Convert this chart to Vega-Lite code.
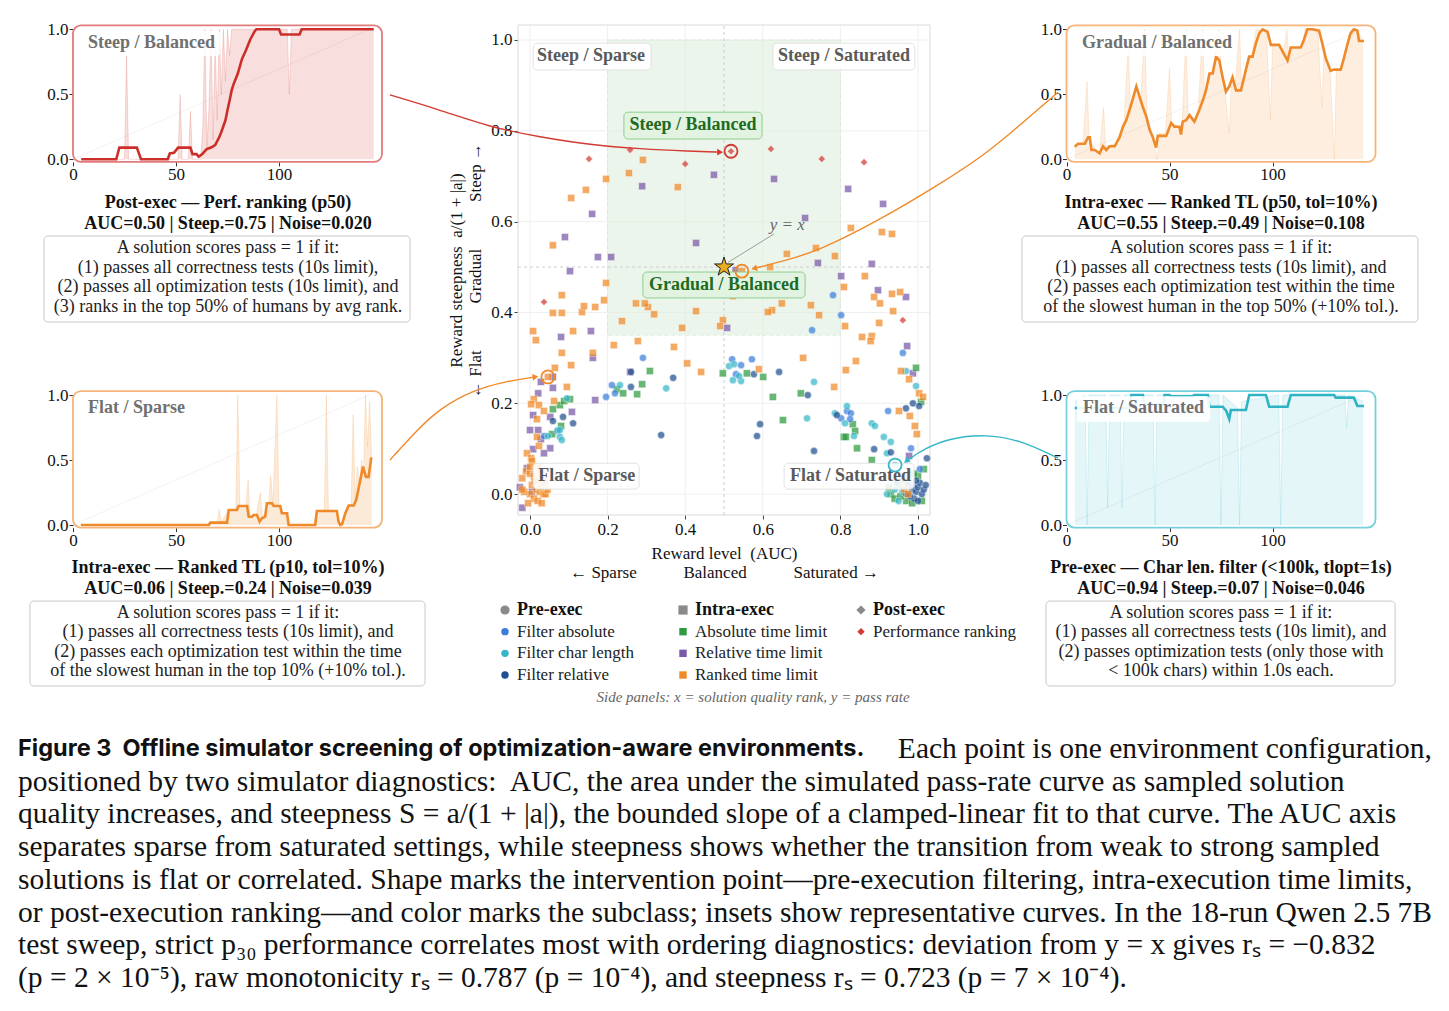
{
"$schema":"https://vega.github.io/schema/vega-lite/v6.json",
"width":1449,"height":1011,"padding":0,"autosize":{"type":"none"},"background":"white",
"config":{"view":{"stroke":null},"font":"Liberation Serif","axis":{"labelFont":"Liberation Serif","titleFont":"Liberation Serif"}},
"data":{"values":[{}]},
"datasets":{
"ticks":[{"g":0},{"g":0.2},{"g":0.4},{"g":0.6},{"g":0.8},{"g":1}],
"pts":[
{"auc":0.152,"steep":0.738,"sub":"PR"},{"auc":0.258,"steep":0.758,"sub":"PR"},{"auc":0.4,"steep":0.727,"sub":"PR"},{"auc":0.518,"steep":0.755,"sub":"PR"},{"auc":0.621,"steep":0.76,"sub":"PR"},{"auc":0.752,"steep":0.738,"sub":"PR"},{"auc":0.861,"steep":0.731,"sub":"PR"},{"auc":0.036,"steep":0.423,"sub":"PR"},{"auc":0.961,"steep":0.383,"sub":"PR"},
{"auc":0.289,"steep":0.678,"sub":"RT"},{"auc":0.474,"steep":0.703,"sub":"RT"},{"auc":0.629,"steep":0.694,"sub":"RT"},{"auc":0.82,"steep":0.672,"sub":"RT"},{"auc":0.91,"steep":0.639,"sub":"RT"},{"auc":0.16,"steep":0.617,"sub":"RT"},{"auc":0.09,"steep":0.566,"sub":"RT"},{"auc":0.175,"steep":0.522,"sub":"RT"},{"auc":0.209,"steep":0.522,"sub":"RT"},{"auc":0.428,"steep":0.553,"sub":"RT"},{"auc":0.709,"steep":0.608,"sub":"RT"},{"auc":0.742,"steep":0.509,"sub":"RT"},{"auc":0.881,"steep":0.507,"sub":"RT"},{"auc":0.802,"steep":0.48,"sub":"RT"},{"auc":0.103,"steep":0.491,"sub":"RT"},{"auc":0.969,"steep":0.434,"sub":"RT"},{"auc":0.897,"steep":0.449,"sub":"RT"},{"auc":0.508,"steep":0.366,"sub":"RT"},{"auc":0.157,"steep":0.359,"sub":"RT"},{"auc":0.162,"steep":0.3,"sub":"RT"},{"auc":0.08,"steep":0.346,"sub":"RT"},{"auc":0.168,"steep":0.207,"sub":"RT"},{"auc":0.258,"steep":0.269,"sub":"RT"},{"auc":0.059,"steep":0.258,"sub":"RT"},{"auc":0.059,"steep":0.234,"sub":"RT"},{"auc":0.028,"steep":0.247,"sub":"RT"},{"auc":0.021,"steep":0.222,"sub":"RT"},{"auc":0.008,"steep":0.174,"sub":"RT"},{"auc":0.052,"steep":0.17,"sub":"RT"},{"auc":0.108,"steep":0.181,"sub":"RT"},{"auc":0.0,"steep":0.141,"sub":"RT"},{"auc":0.021,"steep":0.141,"sub":"RT"},{"auc":0.028,"steep":0.121,"sub":"RT"},{"auc":0.052,"steep":0.101,"sub":"RT"},{"auc":0.008,"steep":0.099,"sub":"RT"},{"auc":0.036,"steep":0.09,"sub":"RT"},{"auc":0.972,"steep":0.326,"sub":"RT"},{"auc":0.987,"steep":0.266,"sub":"RT"},{"auc":0.977,"steep":0.084,"sub":"RT"},{"auc":-0.02,"steep":-0.03,"sub":"RT"},{"auc":-0.008,"steep":0.057,"sub":"RT"},{"auc":-0.026,"steep":0.015,"sub":"RT"},{"auc":0.005,"steep":0.005,"sub":"RT"},{"auc":0.035,"steep":0.03,"sub":"RT"},{"auc":0.53,"steep":0.493,"sub":"RT"},
{"auc":0.309,"steep":0.271,"sub":"AT"},{"auc":0.224,"steep":0.231,"sub":"AT"},{"auc":0.24,"steep":0.222,"sub":"AT"},{"auc":0.276,"steep":0.22,"sub":"AT"},{"auc":0.289,"steep":0.242,"sub":"AT"},{"auc":0.497,"steep":0.266,"sub":"AT"},{"auc":0.559,"steep":0.266,"sub":"AT"},{"auc":0.601,"steep":0.258,"sub":"AT"},{"auc":0.626,"steep":0.214,"sub":"AT"},{"auc":0.698,"steep":0.222,"sub":"AT"},{"auc":0.652,"steep":0.163,"sub":"AT"},{"auc":0.832,"steep":0.154,"sub":"AT"},{"auc":0.838,"steep":0.139,"sub":"AT"},{"auc":0.809,"steep":0.126,"sub":"AT"},{"auc":0.814,"steep":0.126,"sub":"AT"},{"auc":0.843,"steep":0.101,"sub":"AT"},{"auc":0.881,"steep":0.075,"sub":"AT"},{"auc":0.995,"steep":0.278,"sub":"AT"},{"auc":1.008,"steep":0.203,"sub":"AT"},{"auc":1.015,"steep":0.055,"sub":"AT"},{"auc":0.059,"steep":0.187,"sub":"AT"},{"auc":0.077,"steep":0.196,"sub":"AT"},{"auc":0.088,"steep":0.205,"sub":"AT"},{"auc":0.103,"steep":0.209,"sub":"AT"},{"auc":0.08,"steep":0.15,"sub":"AT"},{"auc":0.057,"steep":0.132,"sub":"AT"},{"auc":0.93,"steep":0.0,"sub":"AT"},{"auc":0.94,"steep":-0.01,"sub":"AT"},{"auc":0.95,"steep":0.02,"sub":"AT"},{"auc":0.965,"steep":0.03,"sub":"AT"},{"auc":0.97,"steep":-0.015,"sub":"AT"},{"auc":0.985,"steep":-0.02,"sub":"AT"},{"auc":0.925,"steep":0.015,"sub":"AT"},{"auc":0.955,"steep":-0.005,"sub":"AT"},{"auc":1.0,"steep":0.04,"sub":"AT"},{"auc":0.99,"steep":0.045,"sub":"AT"},{"auc":1.01,"steep":-0.015,"sub":"AT"},
{"auc":0.781,"steep":0.438,"sub":"FA"},{"auc":0.802,"steep":0.394,"sub":"FA"},{"auc":0.727,"steep":0.361,"sub":"FA"},{"auc":0.291,"steep":0.3,"sub":"FA"},{"auc":0.211,"steep":0.24,"sub":"FA"},{"auc":0.196,"steep":0.214,"sub":"FA"},{"auc":0.219,"steep":0.222,"sub":"FA"},{"auc":0.521,"steep":0.297,"sub":"FA"},{"auc":0.572,"steep":0.297,"sub":"FA"},{"auc":0.544,"steep":0.284,"sub":"FA"},{"auc":0.531,"steep":0.264,"sub":"FA"},{"auc":0.923,"steep":0.183,"sub":"FA"},{"auc":0.961,"steep":0.311,"sub":"FA"},{"auc":0.982,"steep":0.101,"sub":"FA"},{"auc":1.005,"steep":0.055,"sub":"FA"},{"auc":0.036,"steep":0.128,"sub":"FA"},{"auc":0.07,"steep":0.139,"sub":"FA"},{"auc":0.817,"steep":0.183,"sub":"FA"},{"auc":0.827,"steep":0.178,"sub":"FA"},{"auc":0.825,"steep":0.165,"sub":"FA"},{"auc":0.802,"steep":0.167,"sub":"FA"},{"auc":0.945,"steep":0.025,"sub":"FA"},{"auc":0.96,"steep":0.04,"sub":"FA"},{"auc":0.99,"steep":0.02,"sub":"FA"},
{"auc":0.351,"steep":0.233,"sub":"FC"},{"auc":0.523,"steep":0.251,"sub":"FC"},{"auc":0.544,"steep":0.249,"sub":"FC"},{"auc":0.513,"steep":0.282,"sub":"FC"},{"auc":0.526,"steep":0.286,"sub":"FC"},{"auc":0.539,"steep":0.26,"sub":"FC"},{"auc":0.732,"steep":0.247,"sub":"FC"},{"auc":0.714,"steep":0.167,"sub":"FC"},{"auc":0.817,"steep":0.194,"sub":"FC"},{"auc":0.786,"steep":0.178,"sub":"FC"},{"auc":0.812,"steep":0.156,"sub":"FC"},{"auc":0.835,"steep":0.128,"sub":"FC"},{"auc":0.881,"steep":0.156,"sub":"FC"},{"auc":0.889,"steep":0.15,"sub":"FC"},{"auc":0.912,"steep":0.126,"sub":"FC"},{"auc":0.93,"steep":0.115,"sub":"FC"},{"auc":0.92,"steep":0.09,"sub":"FC"},{"auc":0.969,"steep":0.271,"sub":"FC"},{"auc":0.995,"steep":0.238,"sub":"FC"},{"auc":0.941,"steep":0.064,"sub":"FC"},{"auc":0.232,"steep":0.24,"sub":"FC"},{"auc":0.095,"steep":0.211,"sub":"FC"},{"auc":0.072,"steep":0.141,"sub":"FC"},{"auc":0.077,"steep":0.141,"sub":"FC"},{"auc":0.046,"steep":0.128,"sub":"FC"},{"auc":0.077,"steep":0.126,"sub":"FC"},{"auc":0.082,"steep":0.119,"sub":"FC"},{"auc":0.94,"steep":0.01,"sub":"FC"},{"auc":0.96,"steep":0.005,"sub":"FC"},{"auc":0.975,"steep":0.035,"sub":"FC"},{"auc":0.92,"steep":0.0,"sub":"FC"},{"auc":0.95,"steep":-0.015,"sub":"FC"},{"auc":0.98,"steep":0.045,"sub":"FC"},
{"auc":0.26,"steep":0.236,"sub":"FR"},{"auc":0.26,"steep":0.269,"sub":"FR"},{"auc":0.369,"steep":0.256,"sub":"FR"},{"auc":0.338,"steep":0.13,"sub":"FR"},{"auc":0.577,"steep":0.264,"sub":"FR"},{"auc":0.642,"steep":0.269,"sub":"FR"},{"auc":0.716,"steep":0.218,"sub":"FR"},{"auc":0.593,"steep":0.154,"sub":"FR"},{"auc":0.585,"steep":0.128,"sub":"FR"},{"auc":0.732,"steep":0.095,"sub":"FR"},{"auc":0.791,"steep":0.174,"sub":"FR"},{"auc":0.887,"steep":0.099,"sub":"FR"},{"auc":0.93,"steep":0.092,"sub":"FR"},{"auc":0.987,"steep":0.2,"sub":"FR"},{"auc":1.003,"steep":0.194,"sub":"FR"},{"auc":0.969,"steep":0.189,"sub":"FR"},{"auc":1.023,"steep":0.079,"sub":"FR"},{"auc":0.085,"steep":0.17,"sub":"FR"},{"auc":0.059,"steep":0.161,"sub":"FR"},{"auc":0.111,"steep":0.156,"sub":"FR"},{"auc":0.975,"steep":0.02,"sub":"FR"},{"auc":0.985,"steep":0.01,"sub":"FR"},{"auc":0.995,"steep":0.005,"sub":"FR"},{"auc":1.0,"steep":0.015,"sub":"FR"},{"auc":1.01,"steep":0.0,"sub":"FR"},{"auc":0.99,"steep":-0.01,"sub":"FR"},{"auc":0.98,"steep":-0.005,"sub":"FR"},{"auc":1.005,"steep":0.025,"sub":"FR"},{"auc":1.015,"steep":0.01,"sub":"FR"},{"auc":0.97,"steep":0.0,"sub":"FR"},{"auc":0.995,"steep":0.03,"sub":"FR"},{"auc":1.02,"steep":0.02,"sub":"FR"},{"auc":1.0,"steep":-0.015,"sub":"FR"},
{"auc":0.291,"steep":0.736,"sub":"RK"},{"auc":0.255,"steep":0.707,"sub":"RK"},{"auc":0.196,"steep":0.694,"sub":"RK"},{"auc":0.144,"steep":0.67,"sub":"RK"},{"auc":0.106,"steep":0.652,"sub":"RK"},{"auc":0.059,"steep":0.548,"sub":"RK"},{"auc":0.381,"steep":0.676,"sub":"RK"},{"auc":0.827,"steep":0.586,"sub":"RK"},{"auc":0.907,"steep":0.577,"sub":"RK"},{"auc":0.933,"steep":0.573,"sub":"RK"},{"auc":0.662,"steep":0.529,"sub":"RK"},{"auc":0.737,"steep":0.542,"sub":"RK"},{"auc":0.786,"steep":0.524,"sub":"RK"},{"auc":0.619,"steep":0.5,"sub":"RK"},{"auc":0.863,"steep":0.48,"sub":"RK"},{"auc":0.546,"steep":0.491,"sub":"RK"},{"auc":0.196,"steep":0.465,"sub":"RK"},{"auc":0.809,"steep":0.456,"sub":"RK"},{"auc":0.933,"steep":0.441,"sub":"RK"},{"auc":0.954,"steep":0.445,"sub":"RK"},{"auc":0.887,"steep":0.434,"sub":"RK"},{"auc":0.902,"steep":0.42,"sub":"RK"},{"auc":0.936,"steep":0.403,"sub":"RK"},{"auc":0.9,"steep":0.377,"sub":"RK"},{"auc":0.881,"steep":0.348,"sub":"RK"},{"auc":0.878,"steep":0.337,"sub":"RK"},{"auc":0.856,"steep":0.346,"sub":"RK"},{"auc":0.812,"steep":0.37,"sub":"RK"},{"auc":0.724,"steep":0.416,"sub":"RK"},{"auc":0.745,"steep":0.394,"sub":"RK"},{"auc":0.704,"steep":0.3,"sub":"RK"},{"auc":0.84,"steep":0.293,"sub":"RK"},{"auc":0.814,"steep":0.273,"sub":"RK"},{"auc":0.784,"steep":0.236,"sub":"RK"},{"auc":0.624,"steep":0.405,"sub":"RK"},{"auc":0.613,"steep":0.401,"sub":"RK"},{"auc":0.649,"steep":0.42,"sub":"RK"},{"auc":0.59,"steep":0.275,"sub":"RK"},{"auc":0.405,"steep":0.288,"sub":"RK"},{"auc":0.441,"steep":0.269,"sub":"RK"},{"auc":0.371,"steep":0.324,"sub":"RK"},{"auc":0.392,"steep":0.366,"sub":"RK"},{"auc":0.428,"steep":0.403,"sub":"RK"},{"auc":0.497,"steep":0.383,"sub":"RK"},{"auc":0.49,"steep":0.37,"sub":"RK"},{"auc":0.523,"steep":0.436,"sub":"RK"},{"auc":0.32,"steep":0.396,"sub":"RK"},{"auc":0.304,"steep":0.412,"sub":"RK"},{"auc":0.296,"steep":0.42,"sub":"RK"},{"auc":0.273,"steep":0.42,"sub":"RK"},{"auc":0.278,"steep":0.337,"sub":"RK"},{"auc":0.237,"steep":0.381,"sub":"RK"},{"auc":0.216,"steep":0.328,"sub":"RK"},{"auc":0.191,"steep":0.427,"sub":"RK"},{"auc":0.168,"steep":0.412,"sub":"RK"},{"auc":0.134,"steep":0.401,"sub":"RK"},{"auc":0.139,"steep":0.414,"sub":"RK"},{"auc":0.111,"steep":0.359,"sub":"RK"},{"auc":0.106,"steep":0.284,"sub":"RK"},{"auc":0.082,"steep":0.399,"sub":"RK"},{"auc":0.082,"steep":0.438,"sub":"RK"},{"auc":0.059,"steep":0.399,"sub":"RK"},{"auc":0.082,"steep":0.311,"sub":"RK"},{"auc":0.064,"steep":0.278,"sub":"RK"},{"auc":0.095,"steep":0.236,"sub":"RK"},{"auc":0.008,"steep":0.359,"sub":"RK"},{"auc":0.015,"steep":0.339,"sub":"RK"},{"auc":0.162,"steep":0.311,"sub":"RK"},{"auc":0.956,"steep":0.271,"sub":"RK"},{"auc":0.977,"steep":0.253,"sub":"RK"},{"auc":1.003,"steep":0.222,"sub":"RK"},{"auc":1.013,"steep":0.214,"sub":"RK"},{"auc":0.951,"steep":0.183,"sub":"RK"},{"auc":0.979,"steep":0.172,"sub":"RK"},{"auc":0.992,"steep":0.15,"sub":"RK"},{"auc":0.997,"steep":0.132,"sub":"RK"},{"auc":0.046,"steep":0.258,"sub":"RK"},{"auc":0.01,"steep":0.209,"sub":"RK"},{"auc":0.003,"steep":0.198,"sub":"RK"},{"auc":0.023,"steep":0.196,"sub":"RK"},{"auc":0.036,"steep":0.183,"sub":"RK"},{"auc":0.018,"steep":0.165,"sub":"RK"},{"auc":0.062,"steep":0.205,"sub":"RK"},{"auc":0.018,"steep":0.126,"sub":"RK"},{"auc":0.023,"steep":0.106,"sub":"RK"},{"auc":-0.008,"steep":0.09,"sub":"RK"},{"auc":0.003,"steep":0.079,"sub":"RK"},{"auc":0.005,"steep":0.073,"sub":"RK"},
{"auc":-0.01,"steep":0.05,"sub":"RK"},{"auc":0.0,"steep":0.045,"sub":"RK"},{"auc":0.01,"steep":0.04,"sub":"RK"},{"auc":0.02,"steep":0.03,"sub":"RK"},{"auc":0.005,"steep":0.02,"sub":"RK"},{"auc":0.015,"steep":0.01,"sub":"RK"},{"auc":0.025,"steep":0.005,"sub":"RK"},{"auc":0.035,"steep":0.0,"sub":"RK"},{"auc":0.0,"steep":0.0,"sub":"RK"},{"auc":-0.015,"steep":0.005,"sub":"RK"},{"auc":0.01,"steep":-0.01,"sub":"RK"},{"auc":0.02,"steep":-0.015,"sub":"RK"},{"auc":0.03,"steep":-0.02,"sub":"RK"},{"auc":0.04,"steep":0.0,"sub":"RK"},{"auc":0.045,"steep":0.01,"sub":"RK"},{"auc":-0.005,"steep":-0.02,"sub":"RK"},{"auc":0.012,"steep":0.028,"sub":"RK"},{"auc":0.028,"steep":0.015,"sub":"RK"},{"auc":0.038,"steep":0.025,"sub":"RK"},{"auc":-0.02,"steep":0.01,"sub":"RK"},{"auc":0.0,"steep":0.06,"sub":"RK"},{"auc":0.02,"steep":0.06,"sub":"RK"},{"auc":-0.02,"steep":0.035,"sub":"RK"},{"auc":0.03,"steep":0.045,"sub":"RK"},{"auc":0.965,"steep":0.01,"sub":"RK"},{"auc":0.975,"steep":0.0,"sub":"RK"}
],
"hl":[{"auc":0.518,"steep":0.755,"sub":"PR"},{"auc":0.546,"steep":0.491,"sub":"RK"},{"auc":0.046,"steep":0.258,"sub":"RK"},{"auc":0.941,"steep":0.064,"sub":"FC"}],
"arr":[
{"id":"a","k":0,"auc":-0.361,"steep":0.879,"sub":"PR"},{"id":"a","k":1,"auc":-0.232,"steep":0.846,"sub":"PR"},{"id":"a","k":2,"auc":-0.103,"steep":0.808,"sub":"PR"},{"id":"a","k":3,"auc":0.026,"steep":0.786,"sub":"PR"},{"id":"a","k":4,"auc":0.155,"steep":0.769,"sub":"PR"},{"id":"a","k":5,"auc":0.284,"steep":0.76,"sub":"PR"},{"id":"a","k":6,"auc":0.412,"steep":0.755,"sub":"PR"},{"id":"a","k":7,"auc":0.49,"steep":0.753,"sub":"PR"},
{"id":"b","k":0,"auc":1.361,"steep":0.885,"sub":"RK"},{"id":"b","k":1,"auc":1.263,"steep":0.813,"sub":"RK"},{"id":"b","k":2,"auc":1.173,"steep":0.747,"sub":"RK"},{"id":"b","k":3,"auc":1.044,"steep":0.676,"sub":"RK"},{"id":"b","k":4,"auc":0.902,"steep":0.604,"sub":"RK"},{"id":"b","k":5,"auc":0.747,"steep":0.537,"sub":"RK"},{"id":"b","k":6,"auc":0.662,"steep":0.515,"sub":"RK"},{"id":"b","k":7,"auc":0.578,"steep":0.497,"sub":"RK"},
{"id":"c","k":0,"auc":-0.361,"steep":0.075,"sub":"RK"},{"id":"c","k":1,"auc":-0.296,"steep":0.137,"sub":"RK"},{"id":"c","k":2,"auc":-0.232,"steep":0.189,"sub":"RK"},{"id":"c","k":3,"auc":-0.147,"steep":0.229,"sub":"RK"},{"id":"c","k":4,"auc":-0.059,"steep":0.249,"sub":"RK"},{"id":"c","k":5,"auc":0.014,"steep":0.258,"sub":"RK"},
{"id":"d","k":0,"auc":1.361,"steep":0.079,"sub":"FC"},{"id":"d","k":1,"auc":1.265,"steep":0.119,"sub":"FC"},{"id":"d","k":2,"auc":1.173,"steep":0.132,"sub":"FC"},{"id":"d","k":3,"auc":1.082,"steep":0.123,"sub":"FC"},{"id":"d","k":4,"auc":1.018,"steep":0.101,"sub":"FC"},{"id":"d","k":5,"auc":0.97,"steep":0.073,"sub":"FC"}
],
"sm":[
{"p":"TL","i":4,"v":0},{"p":"TL","i":21,"v":0},{"p":"TL","i":22.5,"v":0.09},{"p":"TL","i":31,"v":0.09},{"p":"TL","i":33,"v":0},{"p":"TL","i":46,"v":0},{"p":"TL","i":47,"v":0.045},{"p":"TL","i":49,"v":0.05},{"p":"TL","i":51,"v":0.09},{"p":"TL","i":57,"v":0.09},{"p":"TL","i":58,"v":0.04},{"p":"TL","i":60,"v":0.04},{"p":"TL","i":61,"v":0.02},{"p":"TL","i":63,"v":0.045},{"p":"TL","i":65,"v":0.08},{"p":"TL","i":67,"v":0.09},{"p":"TL","i":69,"v":0.11},{"p":"TL","i":71,"v":0.17},{"p":"TL","i":72,"v":0.21},{"p":"TL","i":74,"v":0.3},{"p":"TL","i":75,"v":0.38},{"p":"TL","i":76,"v":0.45},{"p":"TL","i":77,"v":0.53},{"p":"TL","i":78,"v":0.58},{"p":"TL","i":80,"v":0.66},{"p":"TL","i":82,"v":0.77},{"p":"TL","i":84,"v":0.84},{"p":"TL","i":86,"v":0.92},{"p":"TL","i":88,"v":0.98},{"p":"TL","i":89,"v":1},{"p":"TL","i":100,"v":1},{"p":"TL","i":101,"v":0.96},{"p":"TL","i":110,"v":0.96},{"p":"TL","i":111,"v":1},{"p":"TL","i":146,"v":1},
{"p":"TR","i":4,"v":0.097},{"p":"TR","i":5.6,"v":0.12},{"p":"TR","i":8.9,"v":0.12},{"p":"TR","i":10.5,"v":0.17},{"p":"TR","i":11.3,"v":0.17},{"p":"TR","i":12.1,"v":0.072},{"p":"TR","i":13.7,"v":0.072},{"p":"TR","i":16.1,"v":0.046},{"p":"TR","i":17.7,"v":0.1},{"p":"TR","i":19.3,"v":0.072},{"p":"TR","i":20.9,"v":0.1},{"p":"TR","i":23.4,"v":0.1},{"p":"TR","i":25.8,"v":0.17},{"p":"TR","i":27.4,"v":0.25},{"p":"TR","i":29,"v":0.3},{"p":"TR","i":30.6,"v":0.38},{"p":"TR","i":32.3,"v":0.47},{"p":"TR","i":33.9,"v":0.56},{"p":"TR","i":35.5,"v":0.48},{"p":"TR","i":37.1,"v":0.4},{"p":"TR","i":38.7,"v":0.33},{"p":"TR","i":40.3,"v":0.23},{"p":"TR","i":41.9,"v":0.17},{"p":"TR","i":43.5,"v":0.09},{"p":"TR","i":44.3,"v":0.18},{"p":"TR","i":48.4,"v":0.18},{"p":"TR","i":50.8,"v":0.28},{"p":"TR","i":52.4,"v":0.25},{"p":"TR","i":54.8,"v":0.25},{"p":"TR","i":55.6,"v":0.19},{"p":"TR","i":56.4,"v":0.29},{"p":"TR","i":58.1,"v":0.3},{"p":"TR","i":59.7,"v":0.34},{"p":"TR","i":62.1,"v":0.29},{"p":"TR","i":64.5,"v":0.38},{"p":"TR","i":66.1,"v":0.45},{"p":"TR","i":67.7,"v":0.53},{"p":"TR","i":69.4,"v":0.66},{"p":"TR","i":71,"v":0.66},{"p":"TR","i":72.6,"v":0.79},{"p":"TR","i":74.2,"v":0.76},{"p":"TR","i":75.8,"v":0.63},{"p":"TR","i":77.4,"v":0.52},{"p":"TR","i":79,"v":0.56},{"p":"TR","i":80.6,"v":0.63},{"p":"TR","i":82.3,"v":0.53},{"p":"TR","i":84.7,"v":0.53},{"p":"TR","i":87.1,"v":0.69},{"p":"TR","i":88.7,"v":0.79},{"p":"TR","i":90.3,"v":0.79},{"p":"TR","i":91.9,"v":0.89},{"p":"TR","i":93.6,"v":0.97},{"p":"TR","i":95.2,"v":1},{"p":"TR","i":97.6,"v":0.98},{"p":"TR","i":99.2,"v":0.88},{"p":"TR","i":103.2,"v":0.88},{"p":"TR","i":104.9,"v":0.83},{"p":"TR","i":107.3,"v":0.76},{"p":"TR","i":108.9,"v":0.86},{"p":"TR","i":113.7,"v":0.86},{"p":"TR","i":115.3,"v":0.92},{"p":"TR","i":116.9,"v":1},{"p":"TR","i":119.4,"v":1},{"p":"TR","i":122.6,"v":0.99},{"p":"TR","i":124.2,"v":0.89},{"p":"TR","i":125.8,"v":0.78},{"p":"TR","i":128.2,"v":0.68},{"p":"TR","i":129.8,"v":0.69},{"p":"TR","i":133.1,"v":0.69},{"p":"TR","i":134.7,"v":0.78},{"p":"TR","i":136.3,"v":0.88},{"p":"TR","i":137.9,"v":0.97},{"p":"TR","i":139.5,"v":1},{"p":"TR","i":141.2,"v":0.99},{"p":"TR","i":142,"v":0.91},{"p":"TR","i":144.4,"v":0.91},
{"p":"BL","i":3.8,"v":0},{"p":"BL","i":65.9,"v":0},{"p":"BL","i":66.7,"v":0.018},{"p":"BL","i":74.8,"v":0.018},{"p":"BL","i":75.6,"v":0.115},{"p":"BL","i":79.6,"v":0.115},{"p":"BL","i":80.4,"v":0.146},{"p":"BL","i":84.5,"v":0.146},{"p":"BL","i":85.3,"v":0.064},{"p":"BL","i":86.9,"v":0.064},{"p":"BL","i":87.7,"v":0.077},{"p":"BL","i":89.3,"v":0.077},{"p":"BL","i":90.6,"v":0.026},{"p":"BL","i":91.7,"v":0.051},{"p":"BL","i":93.3,"v":0.064},{"p":"BL","i":94.1,"v":0.167},{"p":"BL","i":96.6,"v":0.167},{"p":"BL","i":97.4,"v":0.146},{"p":"BL","i":100.6,"v":0.146},{"p":"BL","i":101.4,"v":0.09},{"p":"BL","i":103.9,"v":0.09},{"p":"BL","i":104.7,"v":0},{"p":"BL","i":117.6,"v":0},{"p":"BL","i":118.4,"v":0.108},{"p":"BL","i":128.1,"v":0.108},{"p":"BL","i":128.9,"v":0.026},{"p":"BL","i":129.7,"v":0},{"p":"BL","i":130.6,"v":0.005},{"p":"BL","i":132.2,"v":0.09},{"p":"BL","i":133.8,"v":0.15},{"p":"BL","i":136.3,"v":0.15},{"p":"BL","i":137.6,"v":0.2},{"p":"BL","i":140.8,"v":0.45},{"p":"BL","i":142.2,"v":0.37},{"p":"BL","i":143.5,"v":0.37},{"p":"BL","i":144.8,"v":0.52},
{"p":"BR","i":4,"v":0.9},{"p":"BR","i":30.5,"v":0.9},{"p":"BR","i":31.5,"v":1},{"p":"BR","i":37.1,"v":1},{"p":"BR","i":37.9,"v":0.93},{"p":"BR","i":47,"v":0.93},{"p":"BR","i":47.6,"v":1},{"p":"BR","i":50,"v":1},{"p":"BR","i":50.8,"v":0.99},{"p":"BR","i":61.3,"v":0.99},{"p":"BR","i":62,"v":1},{"p":"BR","i":68.6,"v":1},{"p":"BR","i":69.4,"v":0.91},{"p":"BR","i":75.8,"v":0.91},{"p":"BR","i":77.5,"v":0.88},{"p":"BR","i":79,"v":0.815},{"p":"BR","i":79.8,"v":0.885},{"p":"BR","i":87.1,"v":0.885},{"p":"BR","i":88.7,"v":1},{"p":"BR","i":96.8,"v":1},{"p":"BR","i":98.4,"v":0.91},{"p":"BR","i":107.3,"v":0.91},{"p":"BR","i":108.9,"v":1},{"p":"BR","i":129.9,"v":1},{"p":"BR","i":130.7,"v":0.98},{"p":"BR","i":139.5,"v":0.98},{"p":"BR","i":141.2,"v":0.915},{"p":"BR","i":144.4,"v":0.915}
],
"raw":[
{"p":"TL","i":4,"v":0},{"p":"TL","i":25,"v":0},{"p":"TL","i":26,"v":0.8},{"p":"TL","i":27,"v":0},{"p":"TL","i":51,"v":0},{"p":"TL","i":52,"v":0.5},{"p":"TL","i":53,"v":0},{"p":"TL","i":56,"v":0},{"p":"TL","i":57,"v":0.37},{"p":"TL","i":58,"v":0},{"p":"TL","i":62,"v":0},{"p":"TL","i":63,"v":0.25},{"p":"TL","i":64,"v":1},{"p":"TL","i":65,"v":0.1},{"p":"TL","i":66,"v":0.4},{"p":"TL","i":67,"v":1},{"p":"TL","i":68,"v":0.15},{"p":"TL","i":69,"v":0.9},{"p":"TL","i":70,"v":0.3},{"p":"TL","i":71,"v":1},{"p":"TL","i":72,"v":0.5},{"p":"TL","i":73,"v":1},{"p":"TL","i":74,"v":0.6},{"p":"TL","i":75,"v":1},{"p":"TL","i":76,"v":0.8},{"p":"TL","i":77,"v":1},{"p":"TL","i":104,"v":1},{"p":"TL","i":105,"v":0.5},{"p":"TL","i":106,"v":1},{"p":"TL","i":146,"v":1},
{"p":"TR","i":4,"v":0.1},{"p":"TR","i":8,"v":0.12},{"p":"TR","i":10,"v":0.6},{"p":"TR","i":11,"v":0.15},{"p":"TR","i":14,"v":0.08},{"p":"TR","i":16,"v":0.05},{"p":"TR","i":18,"v":0.4},{"p":"TR","i":19,"v":0.1},{"p":"TR","i":24,"v":0.12},{"p":"TR","i":28,"v":0.3},{"p":"TR","i":30,"v":0.9},{"p":"TR","i":31,"v":0.35},{"p":"TR","i":34,"v":0.56},{"p":"TR","i":36,"v":0.45},{"p":"TR","i":38,"v":1},{"p":"TR","i":39,"v":0.35},{"p":"TR","i":42,"v":0.15},{"p":"TR","i":44,"v":0},{"p":"TR","i":45,"v":0.2},{"p":"TR","i":48,"v":0.2},{"p":"TR","i":50,"v":0.7},{"p":"TR","i":51,"v":0.28},{"p":"TR","i":54,"v":0.26},{"p":"TR","i":56,"v":0.2},{"p":"TR","i":58,"v":1},{"p":"TR","i":59,"v":0.33},{"p":"TR","i":62,"v":0.3},{"p":"TR","i":64,"v":0.38},{"p":"TR","i":66,"v":1},{"p":"TR","i":67,"v":0.5},{"p":"TR","i":70,"v":0.66},{"p":"TR","i":72,"v":0.78},{"p":"TR","i":74,"v":1},{"p":"TR","i":75,"v":0.7},{"p":"TR","i":77,"v":0.52},{"p":"TR","i":79,"v":0.2},{"p":"TR","i":80,"v":0.58},{"p":"TR","i":82,"v":0.6},{"p":"TR","i":84,"v":1},{"p":"TR","i":85,"v":0.55},{"p":"TR","i":88,"v":0.79},{"p":"TR","i":90,"v":0.8},{"p":"TR","i":92,"v":1},{"p":"TR","i":97,"v":0.98},{"p":"TR","i":99,"v":0.3},{"p":"TR","i":100,"v":0.88},{"p":"TR","i":103,"v":0.88},{"p":"TR","i":105,"v":0.8},{"p":"TR","i":107,"v":1},{"p":"TR","i":108,"v":0.76},{"p":"TR","i":110,"v":0.86},{"p":"TR","i":114,"v":0.86},{"p":"TR","i":116,"v":1},{"p":"TR","i":122,"v":0.99},{"p":"TR","i":124,"v":0.4},{"p":"TR","i":125,"v":0.85},{"p":"TR","i":128,"v":0.68},{"p":"TR","i":130,"v":0},{"p":"TR","i":131,"v":0.69},{"p":"TR","i":133,"v":0.69},{"p":"TR","i":135,"v":0.78},{"p":"TR","i":137,"v":0.92},{"p":"TR","i":139,"v":1},{"p":"TR","i":141,"v":1},{"p":"TR","i":144,"v":0.91},
{"p":"BL","i":4,"v":0},{"p":"BL","i":65,"v":0},{"p":"BL","i":66,"v":0.02},{"p":"BL","i":70,"v":0.02},{"p":"BL","i":71,"v":0.12},{"p":"BL","i":72,"v":0.02},{"p":"BL","i":75,"v":0.11},{"p":"BL","i":79,"v":0.12},{"p":"BL","i":80,"v":1},{"p":"BL","i":81,"v":0.15},{"p":"BL","i":84,"v":0.15},{"p":"BL","i":85,"v":0.35},{"p":"BL","i":86,"v":0.07},{"p":"BL","i":89,"v":0.08},{"p":"BL","i":91,"v":0.25},{"p":"BL","i":92,"v":0.05},{"p":"BL","i":95,"v":0.17},{"p":"BL","i":96,"v":0.38},{"p":"BL","i":97,"v":0.15},{"p":"BL","i":99,"v":1},{"p":"BL","i":100,"v":0.15},{"p":"BL","i":101,"v":0.09},{"p":"BL","i":103,"v":0.09},{"p":"BL","i":104,"v":0},{"p":"BL","i":117,"v":0},{"p":"BL","i":118,"v":0.11},{"p":"BL","i":122,"v":0.11},{"p":"BL","i":123,"v":1},{"p":"BL","i":124,"v":0.11},{"p":"BL","i":128,"v":0.11},{"p":"BL","i":130,"v":0},{"p":"BL","i":133,"v":0.12},{"p":"BL","i":135,"v":0.15},{"p":"BL","i":136,"v":0.85},{"p":"BL","i":137,"v":0.2},{"p":"BL","i":138,"v":0.45},{"p":"BL","i":139,"v":0.3},{"p":"BL","i":140,"v":0.5},{"p":"BL","i":141,"v":0.4},{"p":"BL","i":142,"v":1},{"p":"BL","i":143,"v":0.6},{"p":"BL","i":144,"v":0.95},{"p":"BL","i":145,"v":0.5},
{"p":"BR","i":4,"v":0.95},{"p":"BR","i":9,"v":1},{"p":"BR","i":10,"v":0},{"p":"BR","i":11,"v":1},{"p":"BR","i":19,"v":1},{"p":"BR","i":20,"v":0.13},{"p":"BR","i":21,"v":1},{"p":"BR","i":26,"v":1},{"p":"BR","i":27,"v":0.13},{"p":"BR","i":28,"v":1},{"p":"BR","i":42,"v":1},{"p":"BR","i":43,"v":0},{"p":"BR","i":44,"v":1},{"p":"BR","i":74,"v":1},{"p":"BR","i":75,"v":0},{"p":"BR","i":76,"v":1},{"p":"BR","i":83,"v":0.9},{"p":"BR","i":84,"v":0},{"p":"BR","i":85,"v":0.95},{"p":"BR","i":103,"v":1},{"p":"BR","i":104,"v":0},{"p":"BR","i":105,"v":1},{"p":"BR","i":135,"v":1},{"p":"BR","i":136,"v":0.75},{"p":"BR","i":137,"v":1},{"p":"BR","i":144,"v":0.95}
],
"txt":[
{"s":"L","k":0,"t":"Post-exec — Perf. ranking (p50)"},{"s":"L","k":1,"t":"AUC=0.50 | Steep.=0.75 | Noise=0.020"},{"s":"L","k":2,"t":"A solution scores pass = 1 if it:"},{"s":"L","k":3,"t":"(1) passes all correctness tests (10s limit),"},{"s":"L","k":4,"t":"(2) passes all optimization tests (10s limit), and"},{"s":"L","k":5,"t":"(3) ranks in the top 50% of humans by avg rank."},
{"s":"L","k":6,"t":"Intra-exec — Ranked TL (p10, tol=10%)"},{"s":"L","k":7,"t":"AUC=0.06 | Steep.=0.24 | Noise=0.039"},{"s":"L","k":8,"t":"A solution scores pass = 1 if it:"},{"s":"L","k":9,"t":"(1) passes all correctness tests (10s limit), and"},{"s":"L","k":10,"t":"(2) passes each optimization test within the time"},{"s":"L","k":11,"t":"of the slowest human in the top 10% (+10% tol.)."},
{"s":"R","k":0,"t":"Intra-exec — Ranked TL (p50, tol=10%)"},{"s":"R","k":1,"t":"AUC=0.55 | Steep.=0.49 | Noise=0.108"},{"s":"R","k":2,"t":"A solution scores pass = 1 if it:"},{"s":"R","k":3,"t":"(1) passes all correctness tests (10s limit), and"},{"s":"R","k":4,"t":"(2) passes each optimization test within the time"},{"s":"R","k":5,"t":"of the slowest human in the top 50% (+10% tol.)."},
{"s":"R","k":6,"t":"Pre-exec — Char len. filter (<100k, tlopt=1s)"},{"s":"R","k":7,"t":"AUC=0.94 | Steep.=0.07 | Noise=0.046"},{"s":"R","k":8,"t":"A solution scores pass = 1 if it:"},{"s":"R","k":9,"t":"(1) passes all correctness tests (10s limit), and"},{"s":"R","k":10,"t":"(2) passes optimization tests (only those with"},{"s":"R","k":11,"t":"< 100k chars) within 1.0s each."}
],
"leg":[
{"stage":"Pre-exec","r":0,"label":"Pre-exec","sub":"Hpre"},{"stage":"Intra-exec","r":0,"label":"Intra-exec","sub":"Hintra"},{"stage":"Post-exec","r":0,"label":"Post-exec","sub":"Hpost"},
{"stage":"Pre-exec","r":1,"label":"Filter absolute","sub":"FA"},{"stage":"Pre-exec","r":2,"label":"Filter char length","sub":"FC"},{"stage":"Pre-exec","r":3,"label":"Filter relative","sub":"FR"},
{"stage":"Intra-exec","r":1,"label":"Absolute time limit","sub":"AT"},{"stage":"Intra-exec","r":2,"label":"Relative time limit","sub":"RT"},{"stage":"Intra-exec","r":3,"label":"Ranked time limit","sub":"RK"},
{"stage":"Post-exec","r":1,"label":"Performance ranking","sub":"PR"}
],
"cap":[
{"n":1,"part":"title","t":"Figure 3\u00a0\u00a0Offline simulator screening of optimization-aware environments."},
{"n":1,"part":"body","t":"Each point is one environment configuration,"},
{"n":2,"part":"body","t":"positioned by two simulator diagnostics:\u00a0 AUC, the area under the simulated pass-rate curve as sampled solution"},
{"n":3,"part":"body","t":"quality increases, and steepness S = a/(1 + |a|), the bounded slope of a clamped-linear fit to that curve. The AUC axis"},
{"n":4,"part":"body","t":"separates sparse from saturated settings, while steepness shows whether the transition from weak to strong sampled"},
{"n":5,"part":"body","t":"solutions is flat or correlated. Shape marks the intervention point—pre-execution filtering, intra-execution time limits,"},
{"n":6,"part":"body","t":"or post-execution ranking—and color marks the subclass; insets show representative curves. In the 18-run Qwen 2.5 7B"},
{"n":7,"part":"body","t":"test sweep, strict p₃₀ performance correlates most with ordering diagnostics: deviation from y = x gives rₛ = −0.832"},
{"n":8,"part":"body","t":"(p = 2 × 10⁻⁵), raw monotonicity rₛ = 0.787 (p = 10⁻⁴), and steepness rₛ = 0.723 (p = 7 × 10⁻⁴)."}
]
},
"resolve":{"scale":{"x":"independent","y":"independent"},"axis":{"x":"independent","y":"independent"}},
"layer":[
{"layer":[
 {"data":{"name":"ticks"},"mark":{"type":"rule","color":"#efefef","strokeWidth":1},"encoding":{"x":{"field":"g","type":"quantitative","scale":{"domain":[-0.031,1.031],"range":[518,930],"nice":false,"zero":false}},"y":{"datum":-0.046,"type":"quantitative","scale":{"domain":[-0.046,1.033],"range":[515,25],"nice":false,"zero":false}},"y2":{"datum":1.033}}},
 {"data":{"name":"ticks"},"mark":{"type":"rule","color":"#efefef","strokeWidth":1},"encoding":{"y":{"field":"g","type":"quantitative","scale":{"domain":[-0.046,1.033],"range":[515,25],"nice":false,"zero":false}},"x":{"datum":-0.031,"type":"quantitative","scale":{"domain":[-0.031,1.031],"range":[518,930],"nice":false,"zero":false}},"x2":{"datum":1.031}}},
 {"mark":{"type":"rect","fill":"#dff0df","opacity":0.6,"stroke":"#c9e4c9","strokeDash":[4,3],"strokeWidth":1},"encoding":{"x":{"datum":0.2,"type":"quantitative","scale":{"domain":[-0.031,1.031],"range":[518,930],"nice":false,"zero":false}},"x2":{"datum":0.8},"y":{"datum":0.35,"type":"quantitative","scale":{"domain":[-0.046,1.033],"range":[515,25],"nice":false,"zero":false}},"y2":{"datum":1.0}}},
 {"mark":{"type":"rect","filled":false,"stroke":"#d9d9d9","strokeWidth":1},"encoding":{"x":{"datum":-0.031,"type":"quantitative","scale":{"domain":[-0.031,1.031],"range":[518,930],"nice":false,"zero":false}},"x2":{"datum":1.031},"y":{"datum":-0.046,"type":"quantitative","scale":{"domain":[-0.046,1.033],"range":[515,25],"nice":false,"zero":false}},"y2":{"datum":1.033}}},
 {"mark":{"type":"rule","color":"#cccccc","strokeDash":[3,3],"strokeWidth":1},"encoding":{"x":{"datum":0.5,"type":"quantitative","scale":{"domain":[-0.031,1.031],"range":[518,930],"nice":false,"zero":false}},"y":{"datum":-0.046,"type":"quantitative","scale":{"domain":[-0.046,1.033],"range":[515,25],"nice":false,"zero":false}},"y2":{"datum":1.033}}},
 {"mark":{"type":"rule","color":"#cccccc","strokeDash":[3,3],"strokeWidth":1},"encoding":{"y":{"datum":0.5,"type":"quantitative","scale":{"domain":[-0.046,1.033],"range":[515,25],"nice":false,"zero":false}},"x":{"datum":-0.031,"type":"quantitative","scale":{"domain":[-0.031,1.031],"range":[518,930],"nice":false,"zero":false}},"x2":{"datum":1.031}}},
 {"data":{"name":"pts"},"mark":{"type":"point","filled":true,"opacity":0.72,"stroke":"white","strokeWidth":0.5,"size":52},"encoding":{
   "x":{"field":"auc","type":"quantitative","scale":{"domain":[-0.031,1.031],"range":[518,930],"nice":false,"zero":false},"axis":{"orient":"bottom","offset":-496,"values":[0,0.2,0.4,0.6,0.8,1],"format":".1f","domain":false,"tickSize":4,"tickColor":"#444","labelFontSize":17,"labelColor":"#111","labelPadding":2,"grid":false,"labelOverlap":false,"labelFlush":false,"title":["Reward level\u00a0\u00a0(AUC)","← Sparse\u00a0\u00a0\u00a0\u00a0\u00a0\u00a0\u00a0\u00a0\u00a0\u00a0\u00a0Balanced\u00a0\u00a0\u00a0\u00a0\u00a0\u00a0\u00a0\u00a0\u00a0\u00a0\u00a0Saturated →"],"titleFontSize":17,"titleFontWeight":"normal","titleColor":"#111","titlePadding":8,"titleLineHeight":19}},
   "y":{"field":"steep","type":"quantitative","scale":{"domain":[-0.046,1.033],"range":[515,25],"nice":false,"zero":false},"axis":{"orient":"left","offset":-518,"values":[0,0.2,0.4,0.6,0.8,1],"format":".1f","domain":false,"tickSize":4,"tickColor":"#444","labelFontSize":17,"labelColor":"#111","labelPadding":2,"grid":false,"labelOverlap":false,"labelFlush":false,"title":["Reward steepness\u00a0\u00a0a/(1 + |a|)","← Flat\u00a0\u00a0\u00a0\u00a0\u00a0\u00a0\u00a0\u00a0\u00a0\u00a0\u00a0Gradual\u00a0\u00a0\u00a0\u00a0\u00a0\u00a0\u00a0\u00a0\u00a0\u00a0\u00a0Steep →"],"titleFontSize":17,"titleFontWeight":"normal","titleColor":"#111","titlePadding":6,"titleLineHeight":19}},
   "color":{"field":"sub","type":"nominal","scale":{"domain":["FA","FC","FR","AT","RT","RK","PR","Hpre","Hintra","Hpost"],"range":["#3a7ddb","#36b7c8","#1f4f8f","#2e9b3e","#7a5aa8","#f08a28","#d33a32","#8a8a8a","#8a8a8a","#8a8a8a"]},"legend":null},
   "shape":{"field":"sub","type":"nominal","scale":{"domain":["FA","FC","FR","AT","RT","RK","PR","Hpre","Hintra","Hpost"],"range":["circle","circle","circle","square","square","square","diamond","circle","square","diamond"]},"legend":null}}},
 {"mark":{"type":"rect","fill":"#ffffff","fillOpacity":0.88,"stroke":"#e2e2e2","strokeWidth":1,"cornerRadius":4},"encoding":{"x":{"datum":0.008,"type":"quantitative","scale":{"domain":[-0.031,1.031],"range":[518,930],"nice":false,"zero":false}},"x2":{"datum":0.312},"y":{"datum":0.934,"type":"quantitative","scale":{"domain":[-0.046,1.033],"range":[515,25],"nice":false,"zero":false}},"y2":{"datum":0.993}}},
 {"mark":{"type":"rect","fill":"#ffffff","fillOpacity":0.88,"stroke":"#e2e2e2","strokeWidth":1,"cornerRadius":4},"encoding":{"x":{"datum":0.626,"type":"quantitative","scale":{"domain":[-0.031,1.031],"range":[518,930],"nice":false,"zero":false}},"x2":{"datum":0.992},"y":{"datum":0.934,"type":"quantitative","scale":{"domain":[-0.046,1.033],"range":[515,25],"nice":false,"zero":false}},"y2":{"datum":0.993}}},
 {"mark":{"type":"rect","fill":"#ffffff","fillOpacity":0.88,"stroke":"#e2e2e2","strokeWidth":1,"cornerRadius":4},"encoding":{"x":{"datum":0.008,"type":"quantitative","scale":{"domain":[-0.031,1.031],"range":[518,930],"nice":false,"zero":false}},"x2":{"datum":0.281},"y":{"datum":0.011,"type":"quantitative","scale":{"domain":[-0.046,1.033],"range":[515,25],"nice":false,"zero":false}},"y2":{"datum":0.068}}},
 {"mark":{"type":"rect","fill":"#ffffff","fillOpacity":0.88,"stroke":"#e2e2e2","strokeWidth":1,"cornerRadius":4},"encoding":{"x":{"datum":0.655,"type":"quantitative","scale":{"domain":[-0.031,1.031],"range":[518,930],"nice":false,"zero":false}},"x2":{"datum":0.99},"y":{"datum":0.011,"type":"quantitative","scale":{"domain":[-0.046,1.033],"range":[515,25],"nice":false,"zero":false}},"y2":{"datum":0.068}}},
 {"mark":{"type":"rect","fill":"#e2f3e2","stroke":"#8fcf8f","strokeWidth":1,"cornerRadius":4},"encoding":{"x":{"datum":0.242,"type":"quantitative","scale":{"domain":[-0.031,1.031],"range":[518,930],"nice":false,"zero":false}},"x2":{"datum":0.598},"y":{"datum":0.782,"type":"quantitative","scale":{"domain":[-0.046,1.033],"range":[515,25],"nice":false,"zero":false}},"y2":{"datum":0.841}}},
 {"mark":{"type":"rect","fill":"#e2f3e2","stroke":"#8fcf8f","strokeWidth":1,"cornerRadius":4},"encoding":{"x":{"datum":0.291,"type":"quantitative","scale":{"domain":[-0.031,1.031],"range":[518,930],"nice":false,"zero":false}},"x2":{"datum":0.709},"y":{"datum":0.432,"type":"quantitative","scale":{"domain":[-0.046,1.033],"range":[515,25],"nice":false,"zero":false}},"y2":{"datum":0.489}}},
 {"mark":{"type":"text","text":"Steep / Sparse","fontWeight":"bold","fontSize":18,"color":"#5a5a5a","align":"left","baseline":"middle"},"encoding":{"x":{"datum":0.018,"type":"quantitative","scale":{"domain":[-0.031,1.031],"range":[518,930],"nice":false,"zero":false}},"y":{"datum":0.965,"type":"quantitative","scale":{"domain":[-0.046,1.033],"range":[515,25],"nice":false,"zero":false}}}},
 {"mark":{"type":"text","text":"Steep / Saturated","fontWeight":"bold","fontSize":18,"color":"#5a5a5a","align":"left","baseline":"middle"},"encoding":{"x":{"datum":0.639,"type":"quantitative","scale":{"domain":[-0.031,1.031],"range":[518,930],"nice":false,"zero":false}},"y":{"datum":0.965,"type":"quantitative","scale":{"domain":[-0.046,1.033],"range":[515,25],"nice":false,"zero":false}}}},
 {"mark":{"type":"text","text":"Flat / Sparse","fontWeight":"bold","fontSize":18,"color":"#5a5a5a","align":"left","baseline":"middle"},"encoding":{"x":{"datum":0.021,"type":"quantitative","scale":{"domain":[-0.031,1.031],"range":[518,930],"nice":false,"zero":false}},"y":{"datum":0.04,"type":"quantitative","scale":{"domain":[-0.046,1.033],"range":[515,25],"nice":false,"zero":false}}}},
 {"mark":{"type":"text","text":"Flat / Saturated","fontWeight":"bold","fontSize":18,"color":"#5a5a5a","align":"left","baseline":"middle"},"encoding":{"x":{"datum":0.67,"type":"quantitative","scale":{"domain":[-0.031,1.031],"range":[518,930],"nice":false,"zero":false}},"y":{"datum":0.04,"type":"quantitative","scale":{"domain":[-0.046,1.033],"range":[515,25],"nice":false,"zero":false}}}},
 {"mark":{"type":"text","text":"Steep / Balanced","fontWeight":"bold","fontSize":18,"color":"#1e6b22","align":"center","baseline":"middle"},"encoding":{"x":{"datum":0.42,"type":"quantitative","scale":{"domain":[-0.031,1.031],"range":[518,930],"nice":false,"zero":false}},"y":{"datum":0.812,"type":"quantitative","scale":{"domain":[-0.046,1.033],"range":[515,25],"nice":false,"zero":false}}}},
 {"mark":{"type":"text","text":"Gradual / Balanced","fontWeight":"bold","fontSize":18,"color":"#1e6b22","align":"center","baseline":"middle"},"encoding":{"x":{"datum":0.5,"type":"quantitative","scale":{"domain":[-0.031,1.031],"range":[518,930],"nice":false,"zero":false}},"y":{"datum":0.461,"type":"quantitative","scale":{"domain":[-0.046,1.033],"range":[515,25],"nice":false,"zero":false}}}},
 {"data":{"name":"hl"},"mark":{"type":"point","filled":false,"strokeWidth":1.8,"size":170,"opacity":1},"encoding":{"x":{"field":"auc","type":"quantitative","scale":{"domain":[-0.031,1.031],"range":[518,930],"nice":false,"zero":false}},"y":{"field":"steep","type":"quantitative","scale":{"domain":[-0.046,1.033],"range":[515,25],"nice":false,"zero":false}},"color":{"field":"sub","type":"nominal","scale":{"domain":["FA","FC","FR","AT","RT","RK","PR","Hpre","Hintra","Hpost"],"range":["#3a7ddb","#36b7c8","#1f4f8f","#2e9b3e","#7a5aa8","#f08a28","#d33a32","#8a8a8a","#8a8a8a","#8a8a8a"]},"legend":null}}},
 {"data":{"name":"arr"},"mark":{"type":"line","strokeWidth":1.4,"interpolate":"basis"},"encoding":{"x":{"field":"auc","type":"quantitative","scale":{"domain":[-0.031,1.031],"range":[518,930],"nice":false,"zero":false}},"y":{"field":"steep","type":"quantitative","scale":{"domain":[-0.046,1.033],"range":[515,25],"nice":false,"zero":false}},"color":{"field":"sub","type":"nominal","scale":{"domain":["FA","FC","FR","AT","RT","RK","PR","Hpre","Hintra","Hpost"],"range":["#3a7ddb","#36b7c8","#1f4f8f","#2e9b3e","#7a5aa8","#f08a28","#d33a32","#8a8a8a","#8a8a8a","#8a8a8a"]},"legend":null},"detail":{"field":"id"},"order":{"field":"k","type":"quantitative"}}},
 {"mark":{"type":"point","shape":"triangle-up","filled":true,"angle":90,"size":45,"color":"#d33a32","opacity":1},"encoding":{"x":{"datum":0.49,"type":"quantitative","scale":{"domain":[-0.031,1.031],"range":[518,930],"nice":false,"zero":false}},"y":{"datum":0.753,"type":"quantitative","scale":{"domain":[-0.046,1.033],"range":[515,25],"nice":false,"zero":false}}}},
 {"mark":{"type":"point","shape":"triangle-up","filled":true,"angle":255,"size":45,"color":"#f08a28","opacity":1},"encoding":{"x":{"datum":0.578,"type":"quantitative","scale":{"domain":[-0.031,1.031],"range":[518,930],"nice":false,"zero":false}},"y":{"datum":0.497,"type":"quantitative","scale":{"domain":[-0.046,1.033],"range":[515,25],"nice":false,"zero":false}}}},
 {"mark":{"type":"point","shape":"triangle-up","filled":true,"angle":82,"size":45,"color":"#f08a28","opacity":1},"encoding":{"x":{"datum":0.014,"type":"quantitative","scale":{"domain":[-0.031,1.031],"range":[518,930],"nice":false,"zero":false}},"y":{"datum":0.258,"type":"quantitative","scale":{"domain":[-0.046,1.033],"range":[515,25],"nice":false,"zero":false}}}},
 {"mark":{"type":"point","shape":"triangle-up","filled":true,"angle":235,"size":45,"color":"#36b7c8","opacity":1},"encoding":{"x":{"datum":0.97,"type":"quantitative","scale":{"domain":[-0.031,1.031],"range":[518,930],"nice":false,"zero":false}},"y":{"datum":0.073,"type":"quantitative","scale":{"domain":[-0.046,1.033],"range":[515,25],"nice":false,"zero":false}}}},
 {"mark":{"type":"rule","color":"#888888","strokeWidth":0.8},"encoding":{"x":{"datum":0.629,"type":"quantitative","scale":{"domain":[-0.031,1.031],"range":[518,930],"nice":false,"zero":false}},"y":{"datum":0.573,"type":"quantitative","scale":{"domain":[-0.046,1.033],"range":[515,25],"nice":false,"zero":false}},"x2":{"datum":0.51},"y2":{"datum":0.51}}},
 {"mark":{"type":"text","text":"y = x","fontStyle":"italic","fontSize":17,"color":"#666666","align":"center","baseline":"middle"},"encoding":{"x":{"datum":0.663,"type":"quantitative","scale":{"domain":[-0.031,1.031],"range":[518,930],"nice":false,"zero":false}},"y":{"datum":0.593,"type":"quantitative","scale":{"domain":[-0.046,1.033],"range":[515,25],"nice":false,"zero":false}}}},
 {"mark":{"type":"point","shape":"M0,-1L0.2245,-0.309L0.951,-0.309L0.363,0.118L0.588,0.809L0,0.382L-0.588,0.809L-0.363,0.118L-0.951,-0.309L-0.2245,-0.309Z","filled":true,"fill":"#e8ad20","stroke":"#222222","strokeWidth":1,"size":400,"opacity":1},"encoding":{"x":{"datum":0.5,"type":"quantitative","scale":{"domain":[-0.031,1.031],"range":[518,930],"nice":false,"zero":false}},"y":{"datum":0.5,"type":"quantitative","scale":{"domain":[-0.046,1.033],"range":[515,25],"nice":false,"zero":false}}}},
 {"mark":{"type":"text","text":"Side panels: x = solution quality rank, y = pass rate","fontStyle":"italic","fontSize":15,"color":"#666666","align":"center","baseline":"middle"},"encoding":{"x":{"datum":0.575,"type":"quantitative","scale":{"domain":[-0.031,1.031],"range":[518,930],"nice":false,"zero":false}},"y":{"datum":-0.447,"type":"quantitative","scale":{"domain":[-0.046,1.033],"range":[515,25],"nice":false,"zero":false}}}}
]},
{"layer":[
 {"mark":{"type":"rect","fill":"white","stroke":"#c9c9c9","strokeWidth":1,"cornerRadius":4},"encoding":{"x":{"datum":-14.1,"type":"quantitative","scale":{"domain":[0,150],"range":[73,382],"nice":false,"zero":false}},"x2":{"datum":163.6},"y":{"datum":-0.59,"type":"quantitative","scale":{"domain":[-0.02,1.03],"range":[161.9,25.4],"nice":false,"zero":false}},"y2":{"datum":-1.252}}},
 {"data":{"name":"raw"},"transform":[{"filter":"datum.p==='TL'"}],"mark":{"type":"area","color":"#d33a32","opacity":0.17},"encoding":{"x":{"field":"i","type":"quantitative","scale":{"domain":[0,150],"range":[73,382],"nice":false,"zero":false}},"y":{"field":"v","type":"quantitative","scale":{"domain":[-0.02,1.03],"range":[161.9,25.4],"nice":false,"zero":false}},"y2":{"datum":0}}},
 {"data":{"name":"raw"},"transform":[{"filter":"datum.p==='TL'"}],"mark":{"type":"line","color":"#d33a32","opacity":0.25,"strokeWidth":0.7},"encoding":{"x":{"field":"i","type":"quantitative","scale":{"domain":[0,150],"range":[73,382],"nice":false,"zero":false}},"y":{"field":"v","type":"quantitative","scale":{"domain":[-0.02,1.03],"range":[161.9,25.4],"nice":false,"zero":false}}}},
 {"mark":{"type":"rule","color":"#000000","opacity":0.05,"strokeWidth":1},"encoding":{"x":{"datum":0,"type":"quantitative","scale":{"domain":[0,150],"range":[73,382],"nice":false,"zero":false}},"y":{"datum":0,"type":"quantitative","scale":{"domain":[-0.02,1.03],"range":[161.9,25.4],"nice":false,"zero":false}},"x2":{"datum":144},"y2":{"datum":1}}},
 {"data":{"name":"sm"},"transform":[{"filter":"datum.p==='TL'"}],"mark":{"type":"line","color":"#cc2f2a","strokeWidth":2.6},"encoding":{"x":{"field":"i","type":"quantitative","scale":{"domain":[0,150],"range":[73,382],"nice":false,"zero":false},"axis":{"orient":"bottom","offset":-849.1,"values":[0,50,100],"domain":false,"tickSize":4,"tickColor":"#333","labelFontSize":17,"labelColor":"#111","labelPadding":1,"grid":false,"title":null,"labelOverlap":false,"labelFlush":false}},"y":{"field":"v","type":"quantitative","scale":{"domain":[-0.02,1.03],"range":[161.9,25.4],"nice":false,"zero":false},"axis":{"orient":"left","offset":-73,"values":[0,0.5,1],"format":".1f","domain":false,"tickSize":4,"tickColor":"#333","labelFontSize":17,"labelColor":"#111","labelPadding":1,"grid":false,"title":null,"labelOverlap":false,"labelFlush":false}}}},
 {"mark":{"type":"rect","fill":"white","opacity":0.85,"cornerRadius":3},"encoding":{"x":{"datum":4.4,"type":"quantitative","scale":{"domain":[0,150],"range":[73,382],"nice":false,"zero":false}},"x2":{"datum":71.4},"y":{"datum":0.795,"type":"quantitative","scale":{"domain":[-0.02,1.03],"range":[161.9,25.4],"nice":false,"zero":false}},"y2":{"datum":0.987}}},
 {"mark":{"type":"text","text":"Steep / Balanced","fontWeight":"bold","fontSize":18,"color":"#707070","align":"left","baseline":"middle"},"encoding":{"x":{"datum":7.3,"type":"quantitative","scale":{"domain":[0,150],"range":[73,382],"nice":false,"zero":false}},"y":{"datum":0.895,"type":"quantitative","scale":{"domain":[-0.02,1.03],"range":[161.9,25.4],"nice":false,"zero":false}}}},
 {"mark":{"type":"rect","filled":false,"stroke":"#e27b7b","strokeWidth":1.8,"cornerRadius":8},"encoding":{"x":{"datum":0,"type":"quantitative","scale":{"domain":[0,150],"range":[73,382],"nice":false,"zero":false}},"x2":{"datum":150},"y":{"datum":-0.02,"type":"quantitative","scale":{"domain":[-0.02,1.03],"range":[161.9,25.4],"nice":false,"zero":false}},"y2":{"datum":1.03}}}
]},
{"layer":[
 {"mark":{"type":"rect","fill":"white","stroke":"#c9c9c9","strokeWidth":1,"cornerRadius":4},"encoding":{"x":{"datum":-21.6,"type":"quantitative","scale":{"domain":[0,150],"range":[1066.5,1375.5],"nice":false,"zero":false}},"x2":{"datum":170.6},"y":{"datum":-0.59,"type":"quantitative","scale":{"domain":[-0.02,1.03],"range":[161.9,25.4],"nice":false,"zero":false}},"y2":{"datum":-1.252}}},
 {"data":{"name":"raw"},"transform":[{"filter":"datum.p==='TR'"}],"mark":{"type":"area","color":"#f08a28","opacity":0.15},"encoding":{"x":{"field":"i","type":"quantitative","scale":{"domain":[0,150],"range":[1066.5,1375.5],"nice":false,"zero":false}},"y":{"field":"v","type":"quantitative","scale":{"domain":[-0.02,1.03],"range":[161.9,25.4],"nice":false,"zero":false}},"y2":{"datum":0}}},
 {"data":{"name":"raw"},"transform":[{"filter":"datum.p==='TR'"}],"mark":{"type":"line","color":"#f08a28","opacity":0.22,"strokeWidth":0.7},"encoding":{"x":{"field":"i","type":"quantitative","scale":{"domain":[0,150],"range":[1066.5,1375.5],"nice":false,"zero":false}},"y":{"field":"v","type":"quantitative","scale":{"domain":[-0.02,1.03],"range":[161.9,25.4],"nice":false,"zero":false}}}},
 {"mark":{"type":"rule","color":"#000000","opacity":0.05,"strokeWidth":1},"encoding":{"x":{"datum":0,"type":"quantitative","scale":{"domain":[0,150],"range":[1066.5,1375.5],"nice":false,"zero":false}},"y":{"datum":0,"type":"quantitative","scale":{"domain":[-0.02,1.03],"range":[161.9,25.4],"nice":false,"zero":false}},"x2":{"datum":144},"y2":{"datum":1}}},
 {"data":{"name":"sm"},"transform":[{"filter":"datum.p==='TR'"}],"mark":{"type":"line","color":"#ee8a2a","strokeWidth":2.6},"encoding":{"x":{"field":"i","type":"quantitative","scale":{"domain":[0,150],"range":[1066.5,1375.5],"nice":false,"zero":false},"axis":{"orient":"bottom","offset":-849.1,"values":[0,50,100],"domain":false,"tickSize":4,"tickColor":"#333","labelFontSize":17,"labelColor":"#111","labelPadding":1,"grid":false,"title":null,"labelOverlap":false,"labelFlush":false}},"y":{"field":"v","type":"quantitative","scale":{"domain":[-0.02,1.03],"range":[161.9,25.4],"nice":false,"zero":false},"axis":{"orient":"left","offset":-1066.5,"values":[0,0.5,1],"format":".1f","domain":false,"tickSize":4,"tickColor":"#333","labelFontSize":17,"labelColor":"#111","labelPadding":1,"grid":false,"title":null,"labelOverlap":false,"labelFlush":false}}}},
 {"mark":{"type":"rect","fill":"white","opacity":0.85,"cornerRadius":3},"encoding":{"x":{"datum":4.6,"type":"quantitative","scale":{"domain":[0,150],"range":[1066.5,1375.5],"nice":false,"zero":false}},"x2":{"datum":82.3},"y":{"datum":0.795,"type":"quantitative","scale":{"domain":[-0.02,1.03],"range":[161.9,25.4],"nice":false,"zero":false}},"y2":{"datum":0.987}}},
 {"mark":{"type":"text","text":"Gradual / Balanced","fontWeight":"bold","fontSize":18,"color":"#707070","align":"left","baseline":"middle"},"encoding":{"x":{"datum":7.5,"type":"quantitative","scale":{"domain":[0,150],"range":[1066.5,1375.5],"nice":false,"zero":false}},"y":{"datum":0.895,"type":"quantitative","scale":{"domain":[-0.02,1.03],"range":[161.9,25.4],"nice":false,"zero":false}}}},
 {"mark":{"type":"rect","filled":false,"stroke":"#f5b47a","strokeWidth":1.8,"cornerRadius":8},"encoding":{"x":{"datum":0,"type":"quantitative","scale":{"domain":[0,150],"range":[1066.5,1375.5],"nice":false,"zero":false}},"x2":{"datum":150},"y":{"datum":-0.02,"type":"quantitative","scale":{"domain":[-0.02,1.03],"range":[161.9,25.4],"nice":false,"zero":false}},"y2":{"datum":1.03}}}
]},
{"layer":[
 {"mark":{"type":"rect","fill":"white","stroke":"#c9c9c9","strokeWidth":1,"cornerRadius":4},"encoding":{"x":{"datum":-20.9,"type":"quantitative","scale":{"domain":[0,150],"range":[73,382],"nice":false,"zero":false}},"x2":{"datum":170.9},"y":{"datum":-0.585,"type":"quantitative","scale":{"domain":[-0.02,1.03],"range":[527.6,391.1],"nice":false,"zero":false}},"y2":{"datum":-1.238}}},
 {"data":{"name":"raw"},"transform":[{"filter":"datum.p==='BL'"}],"mark":{"type":"area","color":"#f08a28","opacity":0.18},"encoding":{"x":{"field":"i","type":"quantitative","scale":{"domain":[0,150],"range":[73,382],"nice":false,"zero":false}},"y":{"field":"v","type":"quantitative","scale":{"domain":[-0.02,1.03],"range":[527.6,391.1],"nice":false,"zero":false}},"y2":{"datum":0}}},
 {"data":{"name":"raw"},"transform":[{"filter":"datum.p==='BL'"}],"mark":{"type":"line","color":"#f08a28","opacity":0.25,"strokeWidth":0.7},"encoding":{"x":{"field":"i","type":"quantitative","scale":{"domain":[0,150],"range":[73,382],"nice":false,"zero":false}},"y":{"field":"v","type":"quantitative","scale":{"domain":[-0.02,1.03],"range":[527.6,391.1],"nice":false,"zero":false}}}},
 {"mark":{"type":"rule","color":"#000000","opacity":0.05,"strokeWidth":1},"encoding":{"x":{"datum":0,"type":"quantitative","scale":{"domain":[0,150],"range":[73,382],"nice":false,"zero":false}},"y":{"datum":0,"type":"quantitative","scale":{"domain":[-0.02,1.03],"range":[527.6,391.1],"nice":false,"zero":false}},"x2":{"datum":144},"y2":{"datum":1}}},
 {"data":{"name":"sm"},"transform":[{"filter":"datum.p==='BL'"}],"mark":{"type":"line","color":"#ee8a2a","strokeWidth":2.6},"encoding":{"x":{"field":"i","type":"quantitative","scale":{"domain":[0,150],"range":[73,382],"nice":false,"zero":false},"axis":{"orient":"bottom","offset":-483.4,"values":[0,50,100],"domain":false,"tickSize":4,"tickColor":"#333","labelFontSize":17,"labelColor":"#111","labelPadding":1,"grid":false,"title":null,"labelOverlap":false,"labelFlush":false}},"y":{"field":"v","type":"quantitative","scale":{"domain":[-0.02,1.03],"range":[527.6,391.1],"nice":false,"zero":false},"axis":{"orient":"left","offset":-73,"values":[0,0.5,1],"format":".1f","domain":false,"tickSize":4,"tickColor":"#333","labelFontSize":17,"labelColor":"#111","labelPadding":1,"grid":false,"title":null,"labelOverlap":false,"labelFlush":false}}}},
 {"mark":{"type":"rect","fill":"white","opacity":0.85,"cornerRadius":3},"encoding":{"x":{"datum":4.4,"type":"quantitative","scale":{"domain":[0,150],"range":[73,382],"nice":false,"zero":false}},"x2":{"datum":55.8},"y":{"datum":0.795,"type":"quantitative","scale":{"domain":[-0.02,1.03],"range":[527.6,391.1],"nice":false,"zero":false}},"y2":{"datum":0.99}}},
 {"mark":{"type":"text","text":"Flat / Sparse","fontWeight":"bold","fontSize":18,"color":"#707070","align":"left","baseline":"middle"},"encoding":{"x":{"datum":7.3,"type":"quantitative","scale":{"domain":[0,150],"range":[73,382],"nice":false,"zero":false}},"y":{"datum":0.9,"type":"quantitative","scale":{"domain":[-0.02,1.03],"range":[527.6,391.1],"nice":false,"zero":false}}}},
 {"mark":{"type":"rect","filled":false,"stroke":"#f5b47a","strokeWidth":1.8,"cornerRadius":8},"encoding":{"x":{"datum":0,"type":"quantitative","scale":{"domain":[0,150],"range":[73,382],"nice":false,"zero":false}},"x2":{"datum":150},"y":{"datum":-0.02,"type":"quantitative","scale":{"domain":[-0.02,1.03],"range":[527.6,391.1],"nice":false,"zero":false}},"y2":{"datum":1.03}}}
]},
{"layer":[
 {"mark":{"type":"rect","fill":"white","stroke":"#c9c9c9","strokeWidth":1,"cornerRadius":4},"encoding":{"x":{"datum":-9.95,"type":"quantitative","scale":{"domain":[0,150],"range":[1066.5,1375.5],"nice":false,"zero":false}},"x2":{"datum":159.5},"y":{"datum":-0.585,"type":"quantitative","scale":{"domain":[-0.02,1.03],"range":[527.6,391.1],"nice":false,"zero":false}},"y2":{"datum":-1.238}}},
 {"data":{"name":"raw"},"transform":[{"filter":"datum.p==='BR'"}],"mark":{"type":"area","color":"#36b7c8","opacity":0.13},"encoding":{"x":{"field":"i","type":"quantitative","scale":{"domain":[0,150],"range":[1066.5,1375.5],"nice":false,"zero":false}},"y":{"field":"v","type":"quantitative","scale":{"domain":[-0.02,1.03],"range":[527.6,391.1],"nice":false,"zero":false}},"y2":{"datum":0}}},
 {"data":{"name":"raw"},"transform":[{"filter":"datum.p==='BR'"}],"mark":{"type":"line","color":"#36b7c8","opacity":0.25,"strokeWidth":0.7},"encoding":{"x":{"field":"i","type":"quantitative","scale":{"domain":[0,150],"range":[1066.5,1375.5],"nice":false,"zero":false}},"y":{"field":"v","type":"quantitative","scale":{"domain":[-0.02,1.03],"range":[527.6,391.1],"nice":false,"zero":false}}}},
 {"mark":{"type":"rule","color":"#000000","opacity":0.05,"strokeWidth":1},"encoding":{"x":{"datum":0,"type":"quantitative","scale":{"domain":[0,150],"range":[1066.5,1375.5],"nice":false,"zero":false}},"y":{"datum":0,"type":"quantitative","scale":{"domain":[-0.02,1.03],"range":[527.6,391.1],"nice":false,"zero":false}},"x2":{"datum":144},"y2":{"datum":1}}},
 {"data":{"name":"sm"},"transform":[{"filter":"datum.p==='BR'"}],"mark":{"type":"line","color":"#2fb3c4","strokeWidth":2.6},"encoding":{"x":{"field":"i","type":"quantitative","scale":{"domain":[0,150],"range":[1066.5,1375.5],"nice":false,"zero":false},"axis":{"orient":"bottom","offset":-483.4,"values":[0,50,100],"domain":false,"tickSize":4,"tickColor":"#333","labelFontSize":17,"labelColor":"#111","labelPadding":1,"grid":false,"title":null,"labelOverlap":false,"labelFlush":false}},"y":{"field":"v","type":"quantitative","scale":{"domain":[-0.02,1.03],"range":[527.6,391.1],"nice":false,"zero":false},"axis":{"orient":"left","offset":-1066.5,"values":[0,0.5,1],"format":".1f","domain":false,"tickSize":4,"tickColor":"#333","labelFontSize":17,"labelColor":"#111","labelPadding":1,"grid":false,"title":null,"labelOverlap":false,"labelFlush":false}}}},
 {"mark":{"type":"rect","fill":"white","opacity":0.9,"cornerRadius":3},"encoding":{"x":{"datum":5.1,"type":"quantitative","scale":{"domain":[0,150],"range":[1066.5,1375.5],"nice":false,"zero":false}},"x2":{"datum":69.7},"y":{"datum":0.795,"type":"quantitative","scale":{"domain":[-0.02,1.03],"range":[527.6,391.1],"nice":false,"zero":false}},"y2":{"datum":0.99}}},
 {"mark":{"type":"text","text":"Flat / Saturated","fontWeight":"bold","fontSize":18,"color":"#707070","align":"left","baseline":"middle"},"encoding":{"x":{"datum":8.0,"type":"quantitative","scale":{"domain":[0,150],"range":[1066.5,1375.5],"nice":false,"zero":false}},"y":{"datum":0.9,"type":"quantitative","scale":{"domain":[-0.02,1.03],"range":[527.6,391.1],"nice":false,"zero":false}}}},
 {"mark":{"type":"rect","filled":false,"stroke":"#74d0dc","strokeWidth":1.8,"cornerRadius":8},"encoding":{"x":{"datum":0,"type":"quantitative","scale":{"domain":[0,150],"range":[1066.5,1375.5],"nice":false,"zero":false}},"x2":{"datum":150},"y":{"datum":-0.02,"type":"quantitative","scale":{"domain":[-0.02,1.03],"range":[527.6,391.1],"nice":false,"zero":false}},"y2":{"datum":1.03}}}
]},
{"data":{"name":"txt"},"layer":[
 {"transform":[{"filter":"datum.k===0||datum.k===1||datum.k===6||datum.k===7"}],"mark":{"type":"text","fontWeight":"bold","fontSize":18,"color":"#111111","align":"center","baseline":"middle"},"encoding":{"x":{"field":"s","type":"nominal","scale":{"type":"point","domain":["L","R"],"range":[228,1221],"padding":0},"axis":null},"y":{"field":"k","type":"quantitative","scale":{"domain":[0,1,2,5,6,7,8,11],"range":[203,224,248,307,568,589,613,671],"nice":false,"zero":false},"axis":null},"text":{"field":"t"}}},
 {"transform":[{"filter":"!(datum.k===0||datum.k===1||datum.k===6||datum.k===7)"}],"mark":{"type":"text","fontSize":18,"color":"#222222","align":"center","baseline":"middle"},"encoding":{"x":{"field":"s","type":"nominal","scale":{"type":"point","domain":["L","R"],"range":[228,1221],"padding":0},"axis":null},"y":{"field":"k","type":"quantitative","scale":{"domain":[0,1,2,5,6,7,8,11],"range":[203,224,248,307,568,589,613,671],"nice":false,"zero":false},"axis":null},"text":{"field":"t"}}}
]},
{"data":{"name":"leg"},"layer":[
 {"transform":[{"filter":"datum.r===0"}],"mark":{"type":"point","filled":true,"size":85,"opacity":1},"encoding":{"x":{"field":"stage","type":"nominal","scale":{"type":"point","domain":["Pre-exec","Intra-exec","Post-exec"],"range":[505,861],"padding":0},"axis":null},"y":{"field":"r","type":"quantitative","scale":{"domain":[0,3],"range":[610,675],"nice":false,"zero":false},"axis":null},"color":{"field":"sub","type":"nominal","scale":{"domain":["FA","FC","FR","AT","RT","RK","PR","Hpre","Hintra","Hpost"],"range":["#3a7ddb","#36b7c8","#1f4f8f","#2e9b3e","#7a5aa8","#f08a28","#d33a32","#8a8a8a","#8a8a8a","#8a8a8a"]},"legend":null},"shape":{"field":"sub","type":"nominal","scale":{"domain":["FA","FC","FR","AT","RT","RK","PR","Hpre","Hintra","Hpost"],"range":["circle","circle","circle","square","square","square","diamond","circle","square","diamond"]},"legend":null}}},
 {"transform":[{"filter":"datum.r>0"}],"mark":{"type":"point","filled":true,"size":55,"opacity":1},"encoding":{"x":{"field":"stage","type":"nominal","scale":{"type":"point","domain":["Pre-exec","Intra-exec","Post-exec"],"range":[505,861],"padding":0},"axis":null},"y":{"field":"r","type":"quantitative","scale":{"domain":[0,3],"range":[610,675],"nice":false,"zero":false},"axis":null},"color":{"field":"sub","type":"nominal","scale":{"domain":["FA","FC","FR","AT","RT","RK","PR","Hpre","Hintra","Hpost"],"range":["#3a7ddb","#36b7c8","#1f4f8f","#2e9b3e","#7a5aa8","#f08a28","#d33a32","#8a8a8a","#8a8a8a","#8a8a8a"]},"legend":null},"shape":{"field":"sub","type":"nominal","scale":{"domain":["FA","FC","FR","AT","RT","RK","PR","Hpre","Hintra","Hpost"],"range":["circle","circle","circle","square","square","square","diamond","circle","square","diamond"]},"legend":null}}},
 {"transform":[{"filter":"datum.r===0"}],"mark":{"type":"text","fontWeight":"bold","fontSize":18,"color":"#111111","align":"left","baseline":"middle","dx":12},"encoding":{"x":{"field":"stage","type":"nominal","scale":{"type":"point","domain":["Pre-exec","Intra-exec","Post-exec"],"range":[505,861],"padding":0},"axis":null},"y":{"field":"r","type":"quantitative","scale":{"domain":[0,3],"range":[610,675],"nice":false,"zero":false},"axis":null},"text":{"field":"label"}}},
 {"transform":[{"filter":"datum.r>0"}],"mark":{"type":"text","fontSize":17,"color":"#222222","align":"left","baseline":"middle","dx":12},"encoding":{"x":{"field":"stage","type":"nominal","scale":{"type":"point","domain":["Pre-exec","Intra-exec","Post-exec"],"range":[505,861],"padding":0},"axis":null},"y":{"field":"r","type":"quantitative","scale":{"domain":[0,3],"range":[610,675],"nice":false,"zero":false},"axis":null},"text":{"field":"label"}}}
]},
{"data":{"name":"cap"},"layer":[
 {"transform":[{"filter":"datum.part==='title'"}],"mark":{"type":"text","font":"Inter","fontWeight":"bold","fontSize":23.5,"color":"#111111","align":"left","baseline":"middle"},"encoding":{"x":{"datum":0,"type":"quantitative","scale":{"domain":[0,1],"range":[18,1432],"nice":false,"zero":false},"axis":null},"y":{"field":"n","type":"quantitative","scale":{"domain":[1,8],"range":[749,978],"nice":false,"zero":false},"axis":null},"text":{"field":"t"}}},
 {"transform":[{"filter":"datum.part==='body' && datum.n===1"}],"mark":{"type":"text","fontSize":29.5,"color":"#111111","align":"right","baseline":"middle"},"encoding":{"x":{"datum":1,"type":"quantitative","scale":{"domain":[0,1],"range":[18,1432],"nice":false,"zero":false},"axis":null},"y":{"field":"n","type":"quantitative","scale":{"domain":[1,8],"range":[749,978],"nice":false,"zero":false},"axis":null},"text":{"field":"t"}}},
 {"transform":[{"filter":"datum.part==='body' && datum.n>1"}],"mark":{"type":"text","fontSize":29.5,"color":"#111111","align":"left","baseline":"middle"},"encoding":{"x":{"datum":0,"type":"quantitative","scale":{"domain":[0,1],"range":[18,1432],"nice":false,"zero":false},"axis":null},"y":{"field":"n","type":"quantitative","scale":{"domain":[1,8],"range":[749,978],"nice":false,"zero":false},"axis":null},"text":{"field":"t"}}}
]}
]
}
